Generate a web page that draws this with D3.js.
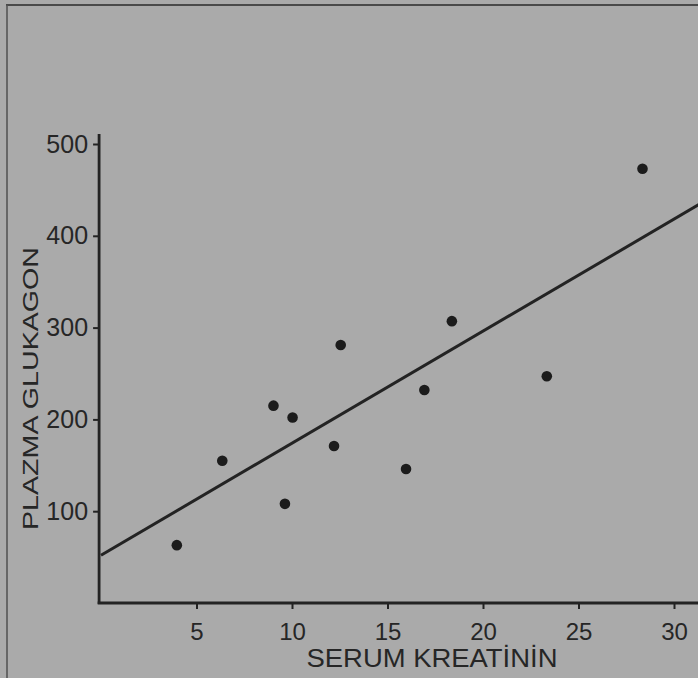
<!DOCTYPE html>
<html>
<head>
<meta charset="utf-8">
<script src="https://cdn.jsdelivr.net/npm/d3@7"></script>
<style>
  html, body { margin: 0; padding: 0; background: #aaaaaa; }
  svg { display: block; }
  text { font-family: "Liberation Sans", Arial, Helvetica, sans-serif; fill: #262626; }
</style>
</head>
<body>
<script>
// ---- data ----
const kreatinin = [3.97, 6.35, 9.03, 10.03, 9.63, 12.2, 12.55, 15.97, 16.93, 18.37, 23.34, 28.35];
const glukagon  = [63, 155, 215, 202, 108, 171, 281, 146, 232, 307, 247, 473];
const xTicks = [5, 10, 15, 20, 25, 30];
const yTicks = [100, 200, 300, 400, 500];
const lineX = [0, 31.3];
const lineY = [52, 434];
const xTitle = "SERUM KREATİNİN";
const yTitle = "PLAZMA GLUKAGON";

const W = 698, H = 678;
const ink = "#232323";

const svg = d3.select("body").append("svg").attr("width", W).attr("height", H);
svg.append("rect").attr("width", W).attr("height", H).attr("fill", "#aaaaaa");

// page frame lines
svg.append("line").attr("x1", 6).attr("x2", W).attr("y1", 5).attr("y2", 5)
  .attr("stroke", "#4a4a4a").attr("stroke-width", 2);
svg.append("line").attr("x1", 7).attr("x2", 7).attr("y1", 5).attr("y2", H)
  .attr("stroke", "#555").attr("stroke-width", 1.6);

const x = d3.scaleLinear().domain([0, 30]).range([101, 674]);
const y = d3.scaleLinear().domain([0, 500]).range([603, 144]);

// y axis
const gy = svg.append("g").attr("transform", `translate(${x(-0.1)},0)`)
  .call(d3.axisLeft(y).tickValues(yTicks).tickSize(6).tickPadding(5));
gy.select(".domain").remove();
gy.selectAll(".tick line").attr("stroke", ink).attr("stroke-width", 2);
gy.selectAll(".tick text").attr("font-size", 25).attr("fill", ink)
  .attr("font-family", '"Liberation Sans", Arial, sans-serif');
svg.append("line").attr("x1", x(-0.1)).attr("x2", x(-0.1))
  .attr("y1", y(0) + 1).attr("y2", y(511))
  .attr("stroke", ink).attr("stroke-width", 2.8);

// x axis
const gx = svg.append("g").attr("transform", `translate(0,${y(0)})`)
  .call(d3.axisBottom(x).tickValues(xTicks).tickSize(6));
gx.select(".domain").remove();
gx.selectAll(".tick line").attr("stroke", ink).attr("stroke-width", 2);
gx.selectAll(".tick text").attr("font-size", 24).attr("fill", ink)
  .attr("y", 37).attr("dy", 0)
  .attr("font-family", '"Liberation Sans", Arial, sans-serif');
svg.append("line").attr("x1", x(-0.1) - 1.4).attr("x2", W)
  .attr("y1", y(0)).attr("y2", y(0))
  .attr("stroke", ink).attr("stroke-width", 2.8);

// regression line
svg.append("path")
  .datum(lineX.map((d, i) => [d, lineY[i]]))
  .attr("d", d3.line().x(d => x(d[0])).y(d => y(d[1])))
  .attr("fill", "none").attr("stroke", ink).attr("stroke-width", 3);

// points
svg.append("g").selectAll("circle")
  .data(kreatinin.map((d, i) => [d, glukagon[i]]))
  .join("circle")
  .attr("cx", d => x(d[0])).attr("cy", d => y(d[1]))
  .attr("r", 5.3).attr("fill", "#1c1c1c");

// titles
svg.append("text").attr("x", 432).attr("y", 667)
  .attr("text-anchor", "middle").attr("font-size", 25)
  .attr("textLength", 251).attr("lengthAdjust", "spacingAndGlyphs")
  .text(xTitle);

svg.append("text")
  .attr("transform", "translate(37.5,388.5) rotate(-90)")
  .attr("text-anchor", "middle").attr("font-size", 22)
  .attr("textLength", 283).attr("lengthAdjust", "spacingAndGlyphs")
  .text(yTitle);
</script>
</body>
</html>
